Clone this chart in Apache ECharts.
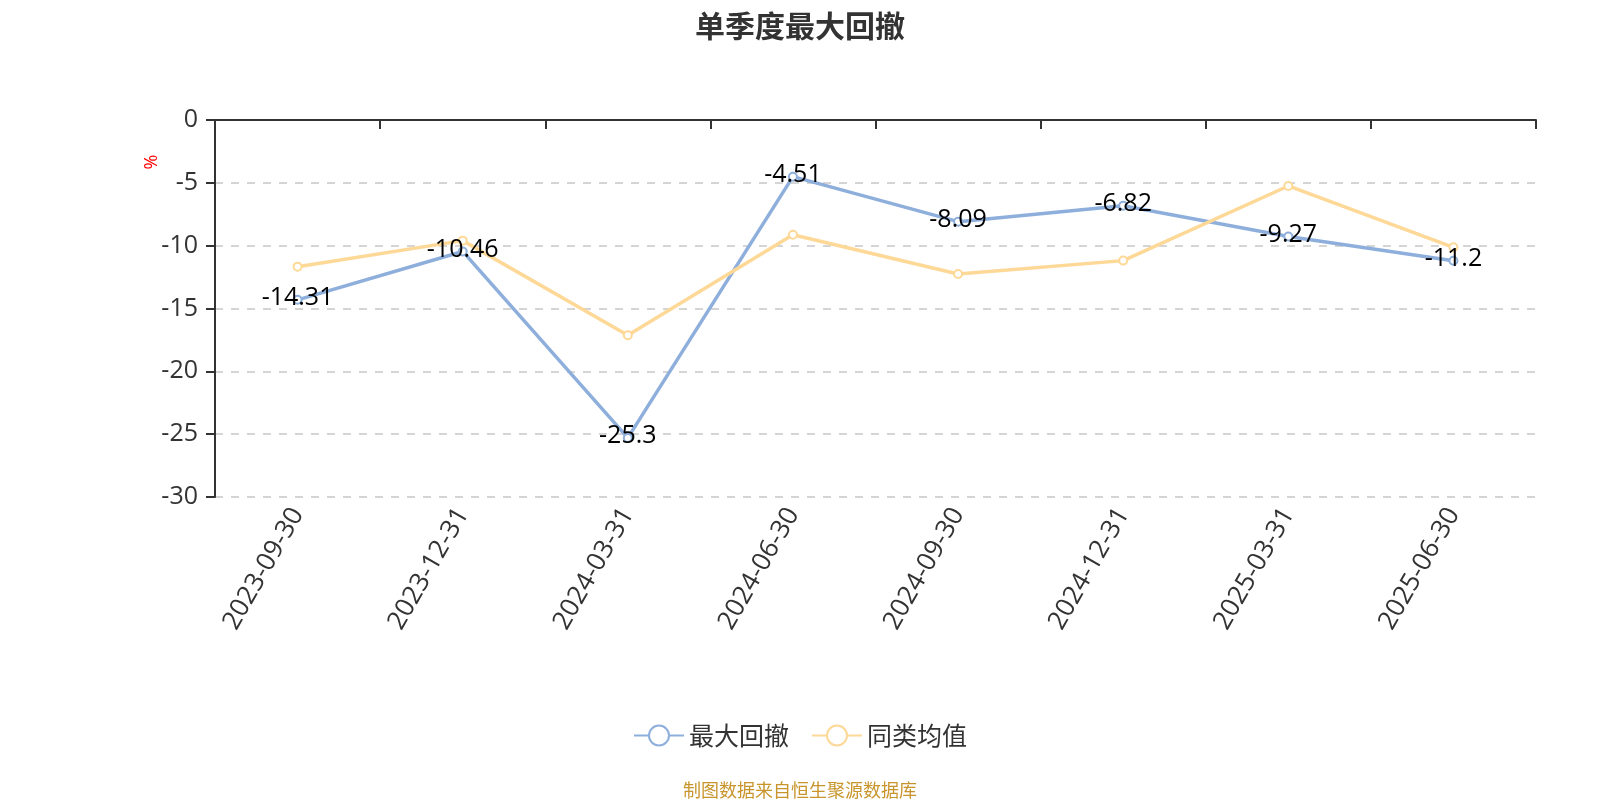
<!DOCTYPE html>
<html>
<head>
<meta charset="utf-8">
<script src="https://cdn.jsdelivr.net/npm/echarts@6/dist/echarts.min.js"></script>
<style>
html,body{margin:0;padding:0;background:#fff;}
#chart{width:1600px;height:800px;}
</style>
</head>
<body>
<div id="chart"></div>
<script>
var categories = ['2023-09-30','2023-12-31','2024-03-31','2024-06-30','2024-09-30','2024-12-31','2025-03-31','2025-06-30'];
var maxDrawdown = [-14.31,-10.46,-25.3,-4.51,-8.09,-6.82,-9.27,-11.2];
var peerAverage = [-11.67,-9.6,-17.13,-9.13,-12.25,-11.19,-5.25,-10.13];
var seriesNames = ['最大回撤','同类均值'];
var titleText = '单季度最大回撤';
var footerText = '制图数据来自恒生聚源数据库';
var yUnit = '%';

var FONT = "'Open Sans', 'Noto Sans CJK SC', sans-serif";
var chart = echarts.init(document.getElementById('chart'));
chart.setOption({
  animation: false,
  textStyle: {fontFamily: FONT},
  color: ['#8eafdc', '#fdd896'],
  title: [
    {text: titleText, left: 'center', top: 6,
     textStyle: {fontSize: 30, fontWeight: 'bold', color: '#333', fontFamily: "'Noto Sans CJK SC', sans-serif"}},
    {text: footerText, left: 'center', top: 776,
     textStyle: {fontSize: 18, fontWeight: 'normal', color: '#c8952c', fontFamily: "'Noto Sans CJK SC', sans-serif"}}
  ],
  graphic: [{
    type: 'text', x: 152, y: 162, rotation: Math.PI / 2,
    style: {text: yUnit, fill: '#ff0000', fontSize: 18, fontFamily: FONT, align: 'center', verticalAlign: 'middle'}
  }],
  legend: {
    data: seriesNames, left: 'center', top: 718,
    itemWidth: 50, itemHeight: 25, itemGap: 22,
    textStyle: {fontSize: 25, color: '#333', fontFamily: "'Noto Sans CJK SC', sans-serif"}
  },
  grid: {left: 215, right: 64, top: 120, bottom: 303},
  xAxis: [
    {type: 'category', data: categories, position: 'bottom', boundaryGap: true,
     axisLine: {show: false, onZero: false}, axisTick: {show: false},
     axisLabel: {rotate: 60, fontSize: 26, color: '#333', margin: 13, interval: 0},
     splitLine: {show: false}},
    {type: 'category', data: categories, position: 'top', boundaryGap: true,
     axisLine: {show: true, onZero: false, lineStyle: {color: '#333', width: 2}},
     axisTick: {show: true, inside: true, length: 9, lineStyle: {color: '#333', width: 2}},
     axisLabel: {show: false}, splitLine: {show: false}}
  ],
  yAxis: {
    type: 'value', min: -30, max: 0, interval: 5,
    axisLine: {show: true, lineStyle: {color: '#333', width: 2}},
    axisTick: {show: true, length: 9, lineStyle: {color: '#333', width: 2}},
    axisLabel: {fontSize: 25, color: '#333', margin: 17},
    splitLine: {show: true, lineStyle: {type: [8, 8], color: '#c8c8c8', width: 1.5}}
  },
  series: [
    {name: seriesNames[0], type: 'line', data: maxDrawdown, xAxisIndex: 0,
     symbol: 'emptyCircle', symbolSize: 8, lineStyle: {width: 3.5},
     label: {show: true, position: 'inside', offset: [0, -2], fontSize: 25, color: '#000'}},
    {name: seriesNames[1], type: 'line', data: peerAverage, xAxisIndex: 0,
     symbol: 'emptyCircle', symbolSize: 8, lineStyle: {width: 3.5}}
  ]
});
</script>
</body>
</html>
